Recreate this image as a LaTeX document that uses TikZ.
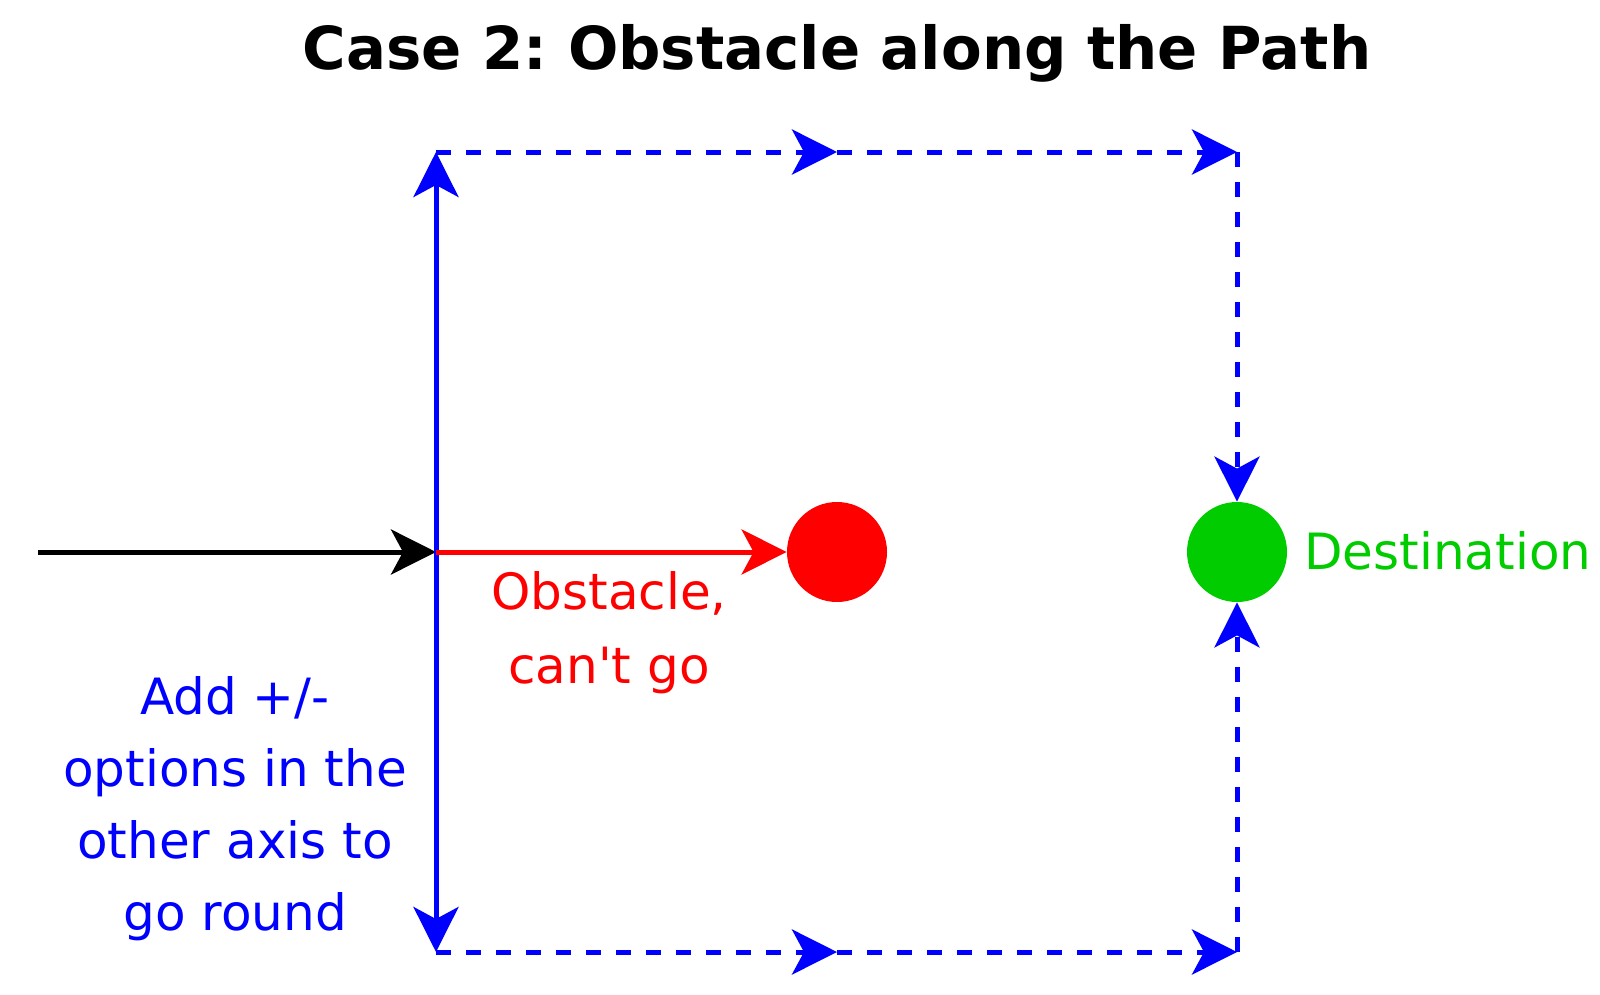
\documentclass[tikz,border=0pt]{standalone}
\usepackage{fontspec}
\setmainfont{DejaVu Sans}[Ligatures=TeXOff]
\usetikzlibrary{arrows.meta}
\definecolor{pblue}{RGB}{0,0,255}
\definecolor{pred}{RGB}{255,0,0}
\definecolor{pgreen}{RGB}{0,204,0}
\tikzset{
  tip/.style={-{Stealth[length=22.5pt,width=22.5pt,inset=6pt]}},
  solidline/.style={line width=2.5pt,tip},
  dashline/.style={line width=2.5pt,pblue,dash pattern=on 7.5pt off 7.5pt,tip},
  dot/.style={circle,minimum size=50pt,inner sep=0pt,draw=none},
  label/.style={inner sep=0pt,font=\fontsize{25}{36}\selectfont,align=center}
}
\begin{document}
\frenchspacing
\begin{tikzpicture}[x=0.5pt,y=-0.5pt]
\useasboundingbox (0,0) rectangle (1600,995);
% title
\node[inner sep=0pt,anchor=base,font=\fontsize{29.65}{36}\selectfont\bfseries] (title) at (837,70) {Case 2: Obstacle along the Path};
% coordinates
\coordinate (start) at (38,552);
\coordinate (junc) at (436,552);
\coordinate (tl) at (436,152);
\coordinate (bl) at (436,952);
\coordinate (tm) at (837,152);
\coordinate (bm) at (837,952);
\coordinate (tr) at (1237,152);
\coordinate (br) at (1237,952);
% circles
\node[dot,fill=pred] (obs) at (837,552) {};
\node[dot,fill=pgreen] (dest) at (1237,552) {};
% solid arrows
\draw[solidline,black] (start) -- (junc);
\draw[solidline,pblue] (junc) -- (tl);
\draw[solidline,pblue] (junc) -- (bl);
\draw[solidline,pred] (junc) -- (obs.west);
% dashed routes
\draw[dashline] (tl) -- (tm);
\draw[dashline] (tm) -- (tr);
\draw[dashline] (tr) -- (dest.north);
\draw[dashline] (bl) -- (bm);
\draw[dashline] (bm) -- (br);
\draw[dashline] (br) -- (dest.south);
% labels
\node[label,text=pred,font=\fontsize{25}{37}\selectfont] (obslabel) at (609,633) {Obstacle,\\can't go};
\node[label,text=pblue] (addlabel) at (235,809) {Add +/-\\options in the\\other axis to\\go round};
\node[label,text=pgreen,anchor=base west] (destlabel) at (1304,569) {Destination};
\end{tikzpicture}
\end{document}
